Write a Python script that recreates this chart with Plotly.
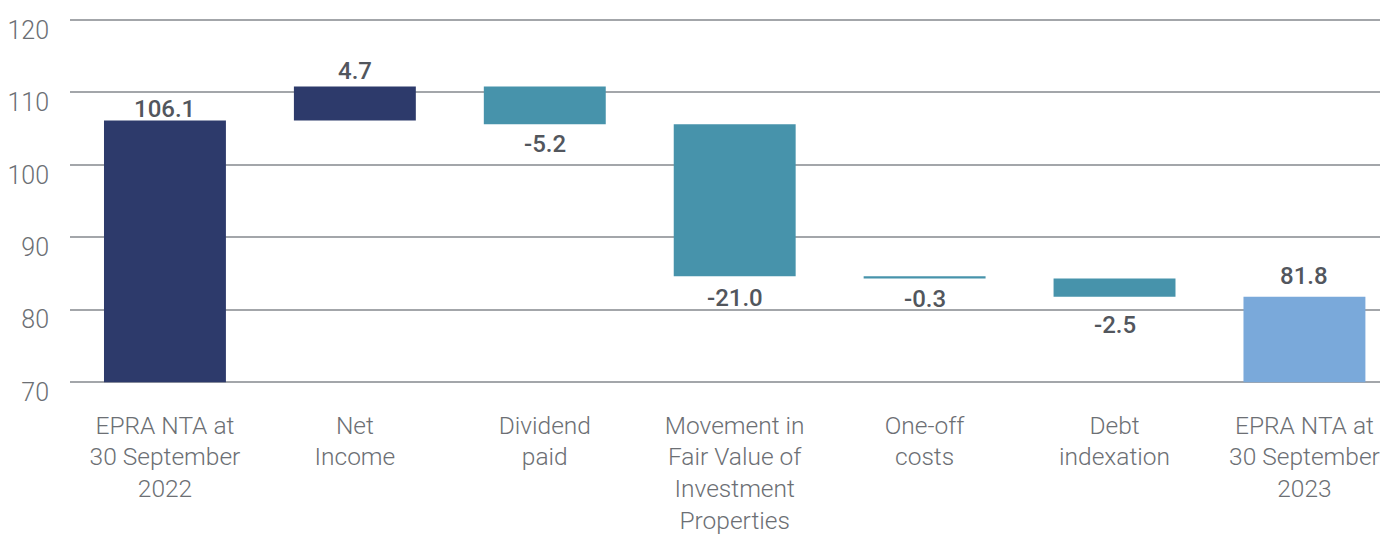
import plotly.graph_objects as go

categories = [
    "EPRA NTA at<br>30 September<br>2022",
    "Net<br>Income",
    "Dividend<br>paid",
    "Movement in<br>Fair Value of<br>Investment<br>Properties",
    "One-off<br>costs",
    "Debt<br>indexation",
    "EPRA NTA at<br>30 September<br>2023",
]
values = [106.1, 4.7, -5.2, -21.0, -0.3, -2.5, 81.8]
measures = ["absolute", "relative", "relative", "relative", "relative", "relative", "total"]
colors = ["#2D3A6B", "#2D3A6B", "#4793AB", "#4793AB", "#4793AB", "#4793AB", "#7AA9DA"]
# style: pixel gap between bar end and its value label
label_gap_px = [3, 6, 11, 13, 11, 19, 12]

Y_MIN = 70
bases, heights, labels, ends = [], [], [], []
running = 0.0
for v, m in zip(values, measures):
    if m == "relative":
        bases.append(running)
        heights.append(v)
        running += v
        ends.append(running)
    else:
        bases.append(Y_MIN)
        heights.append(v - Y_MIN)
        running = v
        ends.append(v)
    labels.append(f"{v:.1f}")

x_idx = list(range(len(categories)))

fig = go.Figure(go.Bar(
    x=x_idx, y=heights, base=bases,
    marker=dict(color=colors, line=dict(width=0)),
    width=0.642,
    hoverinfo="skip",
))

for i, (h, e, lab, gap) in enumerate(zip(heights, ends, labels, label_gap_px)):
    up = h >= 0
    fig.add_annotation(
        x=i, y=e, text=lab, showarrow=False,
        xanchor="center", yanchor="middle",
        yshift=(gap + 9) if up else -(gap + 9),
        font=dict(family="Roboto", size=24, color="#52565d", weight=500),
    )

fig.update_layout(
    width=1380, height=526,
    margin=dict(l=62, r=0, t=9.7, b=149.7, autoexpand=False),
    plot_bgcolor="white", paper_bgcolor="white",
    showlegend=False,
    font=dict(family="Roboto", size=24, color="#6c6f74"),
)
fig.update_xaxes(
    tickmode="array", tickvals=x_idx, ticktext=categories,
    range=[-0.5, 6.44], showgrid=False, zeroline=False, showline=False,
    ticks="", ticklabelstandoff=24, automargin=False,
    tickfont=dict(family="Roboto", size=24.5, color="#6c6f74", weight=300),
)
fig.update_yaxes(
    range=[69.75, 120.25], tickvals=[70, 80, 90, 100, 110, 120],
    showgrid=True, gridcolor="#a3a6aa", gridwidth=1.5,
    zeroline=False, showline=False, ticks="",
    ticklabelstandoff=20, ticklabelshift=10, ticklabeloverflow="allow",
    automargin=False,
    tickfont=dict(family="Roboto", size=25, color="#6c6f74", weight=300),
)

fig.write_html("out.html")
